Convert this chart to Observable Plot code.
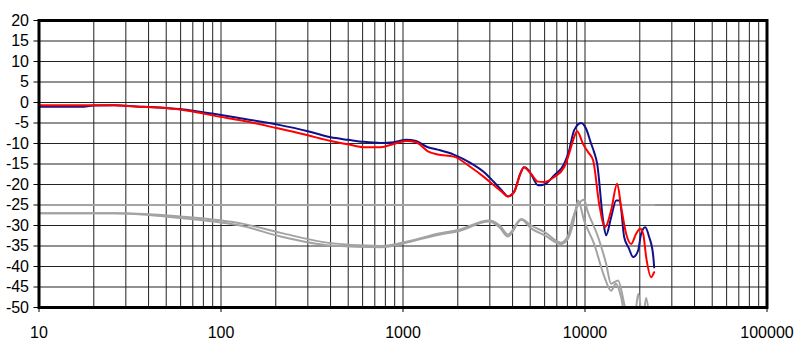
<!DOCTYPE html>
<html>
<head>
<meta charset="utf-8">
<script src="https://cdn.jsdelivr.net/npm/d3@7"></script>
<script src="https://cdn.jsdelivr.net/npm/@observablehq/plot@0.6"></script>
<style>
  html, body { margin: 0; padding: 0; background: #fff; }
  #chart svg { display: block; }
</style>
</head>
<body>
<div id="chart"></div>
<script>
// ---- data ----
const decadeTicks = [10, 100, 1000, 10000, 100000];
const minorSteps = [1, 2, 3, 4, 5, 6, 7, 8, 9];
const dbTicks = [-50, -45, -40, -35, -30, -25, -20, -15, -10, -5, 0, 5, 10, 15, 20];

const blueF  = [10, 17, 20, 26, 34, 48, 70, 91, 130, 205, 300, 401, 500, 610, 755, 890, 1040, 1180, 1370, 1550, 1900, 2360, 2790, 3160, 3500, 3770, 4080, 4400, 4620, 4850, 5060, 5520, 5980, 6760, 7680, 8180, 8710, 9520, 10140, 10800, 11220, 11660, 12580, 13060, 13920, 14830, 15500, 16410, 17400, 18390, 19590, 20350, 21410, 22520, 23690, 23990];
const blueDb = [-1.05, -1.05, -0.75, -0.7, -0.95, -1.3, -2.0, -2.76, -3.9, -5.4, -7.0, -8.5, -9.1, -9.6, -9.85, -9.7, -9.1, -9.4, -10.9, -11.5, -12.7, -14.8, -17.0, -19.4, -21.5, -22.9, -21.8, -17.5, -15.8, -16.3, -17.5, -20.2, -20.0, -17.8, -15.0, -11.7, -6.8, -5.0, -6.4, -10.0, -12.1, -14.9, -28.8, -32.4, -28.0, -23.9, -23.9, -32.8, -35.5, -37.7, -36.1, -32.0, -30.4, -32.8, -37.3, -40.2];

const redF  = [10, 26, 34, 48, 70, 91, 130, 205, 300, 401, 500, 610, 755, 890, 1040, 1180, 1370, 1550, 1900, 2360, 2790, 3160, 3500, 3770, 4080, 4400, 4620, 4850, 5060, 5520, 5980, 6760, 7680, 8180, 8710, 9050, 9760, 10400, 11080, 11960, 12900, 13920, 15020, 15800, 16830, 17930, 19100, 20090, 20870, 21680, 23100, 23990];
const redDb = [-0.66, -0.7, -1.0, -1.3, -2.2, -3.2, -4.4, -6.3, -8.0, -9.4, -10.2, -10.9, -10.9, -10.1, -9.4, -9.7, -11.9, -12.7, -13.2, -15.8, -18.2, -20.2, -21.8, -22.9, -21.8, -17.5, -15.8, -16.5, -17.4, -19.3, -19.4, -18.2, -15.8, -12.5, -8.5, -7.0, -10.1, -12.1, -14.1, -24.7, -30.4, -26.3, -19.8, -25.5, -32.0, -34.5, -32.0, -30.8, -32.0, -37.7, -42.6, -41.4];

const grayAF  = [10, 26, 60, 133, 213, 400, 755, 1150, 1550, 2000, 2970, 3400, 3770, 4470, 5060, 6000, 7380, 8070, 8600, 9160, 9890, 11220, 12800, 13900, 14800, 15800, 16600, 18800, 19590, 20400];
const grayADb = [-27, -27, -28.2, -30.2, -32.7, -34.9, -35.3, -33.7, -32.3, -31.4, -29.0, -30.5, -32.7, -28.6, -30.7, -32.4, -34.5, -33.2, -29.6, -23.9, -28.8, -34.5, -42.6, -45.9, -44.2, -47.5, -52, -52, -46.7, -52];

const grayBF  = [10, 26, 60, 133, 213, 400, 755, 1150, 1550, 2000, 2970, 3400, 3770, 4470, 5060, 6000, 7380, 8070, 8600, 9160, 9890, 10300, 11800, 13060, 13900, 15200, 16400, 17000, 20900, 21680, 22500];
const grayBDb = [-27, -27, -27.8, -29.6, -31.8, -34.3, -35.0, -33.5, -32.0, -31.1, -28.8, -30.0, -32.2, -28.4, -30.0, -31.6, -34.2, -32.5, -28.0, -25.0, -23.7, -26.3, -32.8, -39.3, -44.2, -43.4, -49, -52, -52, -47.7, -52];

const refF  = [10, 24000];
const refDb = [-25, -25];

// ---- build tables ----
const toRows = (f, v) => f.map((x, i) => ({f: x, db: v[i]}));
const blue = toRows(blueF, blueDb);
const red = toRows(redF, redDb);
const grayA = toRows(grayAF, grayADb);
const grayB = toRows(grayBF, grayBDb);
const ref = toRows(refF, refDb);
const gridFreqs = decadeTicks.slice(0, -1).flatMap(d => minorSteps.map(m => d * m)).concat([100000]);

const chart = Plot.plot({
  width: 798,
  height: 348,
  marginLeft: 38.5,
  marginRight: 31.5,
  marginTop: 20,
  marginBottom: 41,
  style: {fontFamily: "Arial, 'Liberation Sans', sans-serif", fontSize: "16px", color: "#000", background: "#fff"},
  x: {type: "log", domain: [10, 100000]},
  y: {domain: [-50, 20]},
  marks: [
    Plot.ruleX(gridFreqs, {x: d => d, stroke: "#222", strokeWidth: 1}),
    Plot.ruleY(dbTicks, {y: d => d, stroke: "#222", strokeWidth: 1}),
    Plot.line(ref, {x: "f", y: "db", stroke: "#a3a3a3", strokeWidth: 2}),
    Plot.line(grayA, {x: "f", y: "db", stroke: "#a3a3a3", strokeWidth: 2, curve: "monotone-x", clip: true}),
    Plot.line(grayB, {x: "f", y: "db", stroke: "#a3a3a3", strokeWidth: 2, curve: "monotone-x", clip: true}),
    Plot.line(blue, {x: "f", y: "db", stroke: "#10108a", strokeWidth: 2, curve: "monotone-x"}),
    Plot.line(red, {x: "f", y: "db", stroke: "#ff0000", strokeWidth: 2, curve: "monotone-x"}),
    Plot.axisX({ticks: decadeTicks, tickFormat: d => String(d), tickSize: 5, tickPadding: 14, label: null, fontSize: 16}),
    Plot.axisY({ticks: dbTicks, tickFormat: d => String(d), tickSize: 5, tickPadding: 5, label: null, fontSize: 16}),
    Plot.frame({stroke: "#000", strokeWidth: 3})
  ]
});
document.getElementById("chart").appendChild(chart);
</script>
</body>
</html>
